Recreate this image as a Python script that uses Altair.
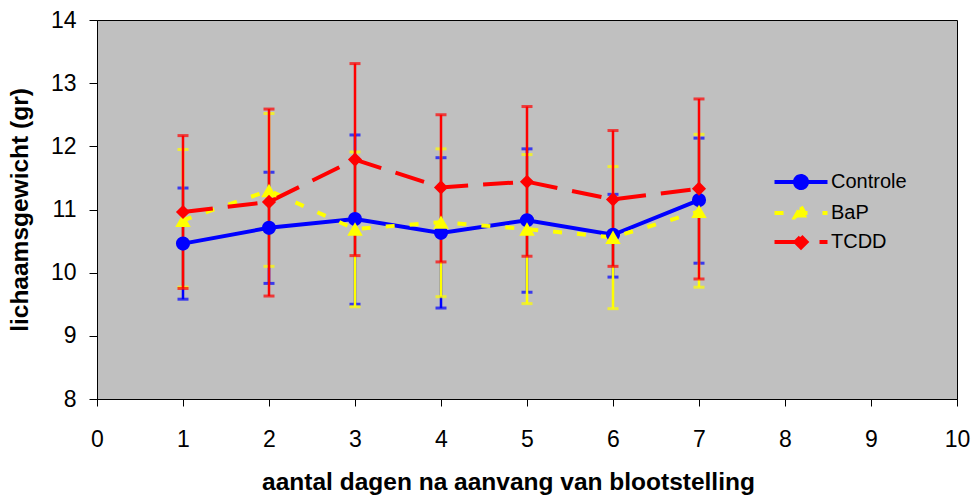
import altair as alt
import pandas as pd

days = [1, 2, 3, 4, 5, 6, 7]
series_names = ["Controle", "BaP", "TCDD"]
series_colors = ["#0000FF", "#FFFF00", "#FF0000"]

controle_mean = [10.46, 10.71, 10.85, 10.63, 10.83, 10.60, 11.15]
controle_low = [9.58, 9.83, 9.50, 9.44, 9.69, 9.93, 10.15]
controle_high = [11.34, 11.59, 12.18, 11.82, 11.96, 11.24, 12.13]

bap_mean = [10.83, 11.30, 10.69, 10.80, 10.69, 10.56, 10.97]
bap_low = [9.77, 10.10, 9.46, 9.62, 9.51, 9.43, 9.77]
bap_high = [11.95, 12.52, 11.91, 11.96, 11.87, 11.68, 12.19]

tcdd_mean = [10.96, 11.12, 11.79, 11.35, 11.44, 11.16, 11.33]
tcdd_low = [9.75, 9.63, 10.27, 10.17, 10.26, 10.10, 9.90]
tcdd_high = [12.17, 12.59, 13.31, 12.50, 12.63, 12.25, 12.75]

x_ticks = [0, 1, 2, 3, 4, 5, 6, 7, 8, 9, 10]
y_ticks = [8, 9, 10, 11, 12, 13, 14]

rows = []
for name, m, lo, hi in [("Controle", controle_mean, controle_low, controle_high),
                        ("BaP", bap_mean, bap_low, bap_high),
                        ("TCDD", tcdd_mean, tcdd_low, tcdd_high)]:
    for d, a, b, c in zip(days, m, lo, hi):
        rows.append({"dag": d, "serie": name, "gem": a, "laag": b, "hoog": c})
df = pd.DataFrame(rows)

FONT = "Liberation Sans"

xscale = alt.Scale(domain=[0, 10], nice=False, zero=False)
yscale = alt.Scale(domain=[8, 14], nice=False, zero=False)

xaxis = alt.Axis(values=x_ticks, format="d", tickSize=7, labelPadding=22,
                 labelFontSize=23, labelFont=FONT, labelColor="black",
                 title="aantal dagen na aanvang van blootstelling",
                 titleFont=FONT, titleFontSize=24.5, titleFontWeight="bold",
                 titleColor="black", titleX=411, titleY=83,
                 titleAlign="center", titleBaseline="middle",
                 grid=False, domainColor="black", tickColor="black",
                 labelFlush=False)
yaxis = alt.Axis(values=y_ticks, format="d", tickSize=8, labelPadding=13,
                 labelFontSize=23, labelFont=FONT, labelColor="black",
                 labelBaseline="middle",
                 title="lichaamsgewicht (gr)",
                 titleFont=FONT, titleFontSize=24.5, titleFontWeight="bold",
                 titleColor="black", titleX=-77, titleY=189.5, titleAngle=270,
                 titleAlign="center", titleBaseline="middle",
                 grid=False, domainColor="black", tickColor="black",
                 labelFlush=False)

base = alt.Chart(df)

dashes = {"Controle": [1, 0], "BaP": [9, 15], "TCDD": [30, 15]}
shapes = {"Controle": "circle", "BaP": "triangle-up", "TCDD": "diamond"}
sizes = {"Controle": 200, "BaP": 240, "TCDD": 200}

layers = []
# error bars
for name, col in zip(series_names, series_colors):
    sub = base.transform_filter(alt.datum.serie == name)
    layers.append(sub.mark_rule(color=col, strokeWidth=2.5).encode(
        x=alt.X("dag:Q", scale=xscale, axis=xaxis),
        y=alt.Y("laag:Q", scale=yscale, axis=yaxis),
        y2="hoog:Q"))
    layers.append(sub.mark_tick(color=col, orient="horizontal", size=11, thickness=3).encode(
        x="dag:Q", y="laag:Q"))
    layers.append(sub.mark_tick(color=col, orient="horizontal", size=11, thickness=3).encode(
        x="dag:Q", y="hoog:Q"))
# lines
for name, col in zip(series_names, series_colors):
    sub = base.transform_filter(alt.datum.serie == name)
    kw = dict(color=col, strokeWidth=4)
    if name != "Controle":
        kw["strokeDash"] = dashes[name]
    layers.append(sub.mark_line(**kw).encode(x="dag:Q", y="gem:Q"))
# markers
for name, col in zip(series_names, series_colors):
    sub = base.transform_filter(alt.datum.serie == name)
    layers.append(sub.mark_point(filled=True, color=col, opacity=1, shape=shapes[name],
                                 size=sizes[name]).encode(x="dag:Q", y="gem:Q"))

# legend symbols: line + marker paths
L = 2.65
leg_paths = [
    f"M-{L},0L{L},0M0.6,0A0.6,0.6 0 1,1 -0.6,0A0.6,0.6 0 1,1 0.6,0Z",
    f"M-{L},0L{L},0M0,-0.62L0.62,0.46L-0.62,0.46Z",
    f"M-{L},0L{L},0M0,-0.55L0.55,0L0,0.55L-0.55,0Z",
]
leg_df = pd.DataFrame({"serie": series_names})
legend = alt.Legend(orient="none", legendX=692, legendY=150, title=None,
                    labelFont=FONT, labelFontSize=20, labelColor="black",
                    labelOffset=18, symbolStrokeWidth=4, rowPadding=2,
                    padding=0, symbolSize=400)
leg_layer = alt.Chart(leg_df).transform_filter("false").mark_point(
    filled=True, strokeWidth=4, size=400, opacity=1).encode(
    x=alt.value(0),
    y=alt.value(0),
    color=alt.Color("serie:N", scale=alt.Scale(domain=series_names, range=series_colors), legend=legend),
    stroke=alt.Stroke("serie:N", scale=alt.Scale(domain=series_names, range=series_colors), legend=legend),
    shape=alt.Shape("serie:N", scale=alt.Scale(domain=series_names, range=leg_paths), legend=legend),
    strokeDash=alt.StrokeDash("serie:N", scale=alt.Scale(domain=series_names,
                              range=[[1, 0], [9, 15], [30, 15]]), legend=legend),
)
layers.append(leg_layer)

chart = alt.layer(*layers).properties(
    width=860, height=379,
    autosize=alt.AutoSizeParams(type="none"),
    padding={"left": 97, "top": 20, "right": 17, "bottom": 98},
    background="white",
).configure_view(fill="#C0C0C0", stroke="black", strokeWidth=1)

chart.save("out.html", embed_options={"renderer": "svg", "actions": False})
